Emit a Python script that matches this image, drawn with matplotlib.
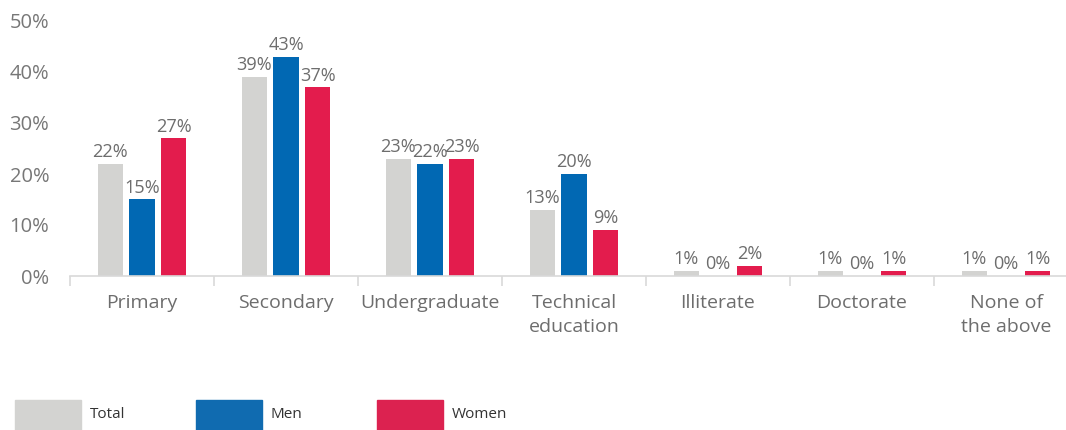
import numpy as np
import matplotlib.pyplot as plt
from matplotlib.patches import Rectangle

plt.rcParams['font.family'] = ['Open Sans', 'DejaVu Sans']

categories = ['Primary', 'Secondary', 'Undergraduate', 'Technical\neducation',
              'Illiterate', 'Doctorate', 'None of\nthe above']
total = [22, 39, 23, 13, 1, 1, 1]
men = [15, 43, 22, 20, 0, 0, 0]
women = [27, 37, 23, 9, 2, 1, 1]
series_names = ['Total', 'Men', 'Women']
colors = ['#d3d3d1', '#0168b3', '#e31c4d']
legend_colors = ['#d3d3d1', '#106bb0', '#dc2250']

W, H = 1066, 430
fig = plt.figure(figsize=(W / 100, H / 100), dpi=100)
ax = fig.add_axes([70 / W, 154 / H, 1008 / W, 255 / H])

x = np.arange(len(categories))
width = 0.174
offset = 0.222
for i, (vals, c) in enumerate(zip([total, men, women], colors)):
    pos = x + (i - 1) * offset
    bars = ax.bar(pos, vals, width, color=c, zorder=2)
    for b, v in zip(bars, vals):
        ax.annotate(f'{v}%', (b.get_x() + b.get_width() / 2, v),
                    xytext=(0, 2), textcoords='offset points',
                    ha='center', va='bottom', fontsize=13.1, color='#6d6d6d')

ax.set_xlim(-0.5, len(categories) - 0.5)
ax.set_ylim(0, 50)
ax.set_yticks(range(0, 51, 10))
ax.set_yticklabels([f'{v}%' for v in range(0, 51, 10)])
ax.set_xticks(x)
ax.set_xticklabels(categories, linespacing=1.45)
ax.set_xticks(np.arange(-0.5, len(categories), 1), minor=True)
ax.tick_params(axis='x', which='major', length=0, pad=13, labelsize=14, labelcolor='#6d6d6d')
ax.tick_params(axis='x', which='minor', length=7, color='#d9d9d9', width=1.2, direction='out')
ax.tick_params(axis='y', length=0, pad=15, labelsize=14.5, labelcolor='#777777')
for s in ['top', 'right', 'left']:
    ax.spines[s].set_visible(False)
ax.spines['bottom'].set_color('#d9d9d9')
ax.spines['bottom'].set_linewidth(1.2)

# legend drawn manually along the bottom
for i, (name, c) in enumerate(zip(series_names, legend_colors)):
    x0 = 15 + i * 181
    fig.patches.append(Rectangle((x0 / W, 0), 66 / W, 30 / H, transform=fig.transFigure,
                                 color=c, clip_on=False))
    fig.text((x0 + 75) / W, 15 / H, name, fontsize=11, color='#333333', va='center')

fig.savefig('out.png', dpi=100)
